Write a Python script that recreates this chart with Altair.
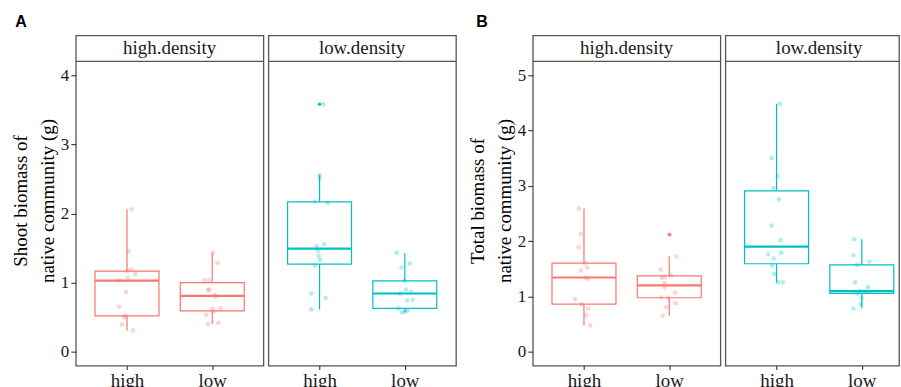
import altair as alt
import numpy as np
import pandas as pd

# ---------------- data ----------------
# Panel A: shoot biomass (g); Panel B: total biomass (g)
# groups: facet (high.density / low.density) x category (high / low)
A_hd_high = [2.06, 1.455, 1.19, 1.165, 1.126, 1.069, 1.03, 0.866, 0.65, 0.52, 0.497, 0.395, 0.309]
A_hd_high_jit = [0.055, 0.016, 0.047, 0.0, 0.098, 0.008, -0.089, -0.012, -0.093, -0.023, -0.035, -0.058, 0.07]
A_hd_low = [1.435, 1.281, 1.04, 1.035, 0.90, 0.895, 0.823, 0.794, 0.627, 0.621, 0.583, 0.534, 0.42, 0.40]
A_hd_low_jit = [0.01, 0.061, -0.036, -0.091, -0.035, -0.048, 0.03, 0.038, 0.096, 0.0, 0.018, -0.071, 0.072, -0.053]
A_ld_high = [3.58, 2.556, 2.508, 2.172, 2.152, 1.555, 1.526, 1.459, 1.386, 1.329, 1.248, 0.843, 0.776, 0.612]
A_ld_high_jit = [0.043, 0.0, 0.0, -0.057, 0.098, 0.055, -0.034, -0.022, -0.011, 0.008, -0.054, -0.097, 0.071, -0.097]
A_ld_low = [1.43, 1.276, 1.218, 1.025, 0.9, 0.866, 0.843, 0.751, 0.742, 0.627, 0.598, 0.578, 0.573]
A_ld_low_jit = [-0.095, 0.057, -0.04, -0.005, 0.014, 0.073, -0.056, 0.092, 0.026, -0.075, 0.034, 0.002, -0.036]

B_hd_high = [2.588, 2.13, 1.89, 1.601, 1.523, 1.469, 1.343, 1.318, 0.951, 0.861, 0.783, 0.662, 0.476]
B_hd_high_jit = [-0.061, -0.037, -0.061, 0.014, 0.037, -0.037, 0.021, 0.049, -0.103, -0.026, 0.049, 0.026, 0.073]
B_hd_low = [2.119, 1.722, 1.487, 1.379, 1.348, 1.336, 1.24, 1.162, 1.065, 0.982, 0.975, 0.879, 0.807, 0.65]
B_hd_low_jit = [0.01, 0.084, -0.099, 0.022, -0.052, -0.087, -0.056, -0.052, 0.069, -0.095, -0.013, 0.072, -0.033, -0.076]
B_ld_high = [4.483, 3.502, 3.171, 2.96, 2.756, 2.281, 2.016, 1.787, 1.758, 1.686, 1.559, 1.408, 1.253, 1.253]
B_ld_high_jit = [0.04, -0.058, 0.012, -0.035, 0.028, -0.058, 0.047, 0.055, -0.1, -0.035, -0.05, -0.027, 0.02, 0.075]
B_ld_low = [2.034, 1.745, 1.632, 1.57, 1.253, 1.168, 1.096, 1.09, 1.083, 1.054, 0.975, 0.866, 0.783]
B_ld_low_jit = [-0.088, -0.099, 0.088, -0.056, -0.08, 0.073, -0.021, 0.034, 0.061, -0.053, 0.0, -0.009, -0.099]

categories = ["high", "low"]
facets = ["high.density", "low.density"]
colors = {"high.density": "#F8766D", "low.density": "#00BFC4"}
A_title = ["Shoot biomass of", "native community (g)"]
B_title = ["Total biomass of", "native community (g)"]
A_ticks = [0, 1, 2, 3, 4]
B_ticks = [0, 1, 2, 3, 4, 5]

SERIF = "Liberation Serif"
PANEL_H = 331   # strip (26) + plot (305)
STRIP_H = 26


def stats(vals, pos):
    v = np.array(vals, dtype=float)
    q1, med, q3 = np.percentile(v, [25, 50, 75])
    iqr = q3 - q1
    lo = v[v >= q1 - 1.5 * iqr].min()
    hi = v[v <= q3 + 1.5 * iqr].max()
    out = v[(v < q1 - 1.5 * iqr) | (v > q3 + 1.5 * iqr)]
    return dict(pos=pos, q1=q1, med=med, q3=q3, lo=lo, hi=hi), out


def facet_chart(groups, facet, ydom, yticks, ytitle, width, xmax, show_y, letter=None):
    col = colors[facet]
    box_rows, out_rows, pt_rows = [], [], []
    for i, (vals, jit) in enumerate(groups):
        pos = i + 1
        s, out = stats(vals, pos)
        box_rows.append(s)
        for o in out:
            out_rows.append(dict(pos=pos, v=o))
        for v, j in zip(vals, jit):
            pt_rows.append(dict(pos=pos, jit=j, v=v))
    box_df = pd.DataFrame(box_rows)
    out_df = pd.DataFrame(out_rows if out_rows else [dict(pos=1, v=np.nan)])
    pt_df = pd.DataFrame(pt_rows)

    xscale = alt.Scale(domain=[0.4, xmax], nice=False, zero=False)
    xaxis = alt.Axis(values=[1, 2], labelExpr="datum.value == 1 ? 'high' : 'low'",
                     title=None, grid=False, domain=False, tickSize=4, tickColor="#333333",
                     tickWidth=1.1, labelPadding=2, labelFont=SERIF, labelFontSize=19,
                     labelColor="#1a1a1a")
    yscale = alt.Scale(domain=ydom, nice=False, zero=False)
    if show_y:
        yaxis = alt.Axis(values=yticks, title=ytitle, grid=False, domain=False, tickSize=5,
                         tickColor="#333333", tickWidth=1.1, labelPadding=2,
                         labelFont=SERIF, labelFontSize=17, labelColor="#1a1a1a",
                         titleFont=SERIF, titleFontSize=19, titleFontWeight="normal",
                         titleColor="#000000", titleLineHeight=27, titleX=-45)
    else:
        yaxis = None

    base_box = alt.Chart(box_df).transform_calculate(
        xlo="datum.pos - 0.375", xhi="datum.pos + 0.375")

    wl = base_box.mark_rule(color=col, strokeWidth=1.2).encode(
        x=alt.X("pos:Q", scale=xscale, axis=xaxis),
        y=alt.Y("lo:Q", scale=yscale, axis=yaxis), y2="q1:Q")
    wh = base_box.mark_rule(color=col, strokeWidth=1.2).encode(
        x=alt.X("pos:Q", scale=xscale, axis=xaxis),
        y=alt.Y("q3:Q", scale=yscale, axis=yaxis), y2="hi:Q")
    box = base_box.mark_rect(fill="white", stroke=col, strokeWidth=1.2).encode(
        x=alt.X("xlo:Q", scale=xscale, axis=xaxis), x2="xhi:Q",
        y=alt.Y("q1:Q", scale=yscale, axis=yaxis), y2="q3:Q")
    med = base_box.mark_rule(color=col, strokeWidth=2.2).encode(
        x=alt.X("xlo:Q", scale=xscale, axis=xaxis), x2="xhi:Q",
        y=alt.Y("med:Q", scale=yscale, axis=yaxis))
    outl = alt.Chart(out_df).mark_circle(color=col, opacity=1, size=11).encode(
        x=alt.X("pos:Q", scale=xscale, axis=xaxis),
        y=alt.Y("v:Q", scale=yscale, axis=yaxis))
    pts = alt.Chart(pt_df).transform_calculate(xj="datum.pos + datum.jit").mark_circle(
        color=col, opacity=0.3, size=22).encode(
        x=alt.X("xj:Q", scale=xscale, axis=xaxis),
        y=alt.Y("v:Q", scale=yscale, axis=yaxis))

    one = pd.DataFrame({"a": [0]})
    strip_line = alt.Chart(one).mark_rule(color="#555555", strokeWidth=1.3).encode(
        x=alt.value(0), x2=alt.value(width), y=alt.value(STRIP_H))
    strip_txt = alt.Chart(pd.DataFrame({"t": [facet]})).mark_text(
        font=SERIF, fontSize=19, color="#1a1a1a", align="center", baseline="alphabetic").encode(
        text="t:N", x=alt.value(94), y=alt.value(18.5))

    layers = [wl, wh, box, med, outl, pts, strip_line, strip_txt]
    if letter is not None:
        lt, lx = letter
        layers.append(alt.Chart(pd.DataFrame({"t": [lt]})).mark_text(
            font="Liberation Sans", fontWeight="bold", fontSize=16, color="#000000",
            align="center", baseline="middle").encode(
            text="t:N", x=alt.value(lx), y=alt.value(-13.5)))
    return alt.layer(*layers).properties(width=width, height=PANEL_H)


A_dom = [-0.2, 4.2 + STRIP_H / (305 / 4.4)]
B_dom = [-0.25, 5.25 + STRIP_H / (305 / 5.5)]

A1 = facet_chart([(A_hd_high, A_hd_high_jit), (A_hd_low, A_hd_low_jit)], facets[0],
                 A_dom, A_ticks, A_title, 188, 2.6, True, ("A", -55))
# invisible anchor fixing the top-left corner of the page
anchor = alt.Chart(pd.DataFrame({"a": [0]})).mark_rule(strokeOpacity=0, strokeWidth=0.01).encode(
    x=alt.value(-75), x2=alt.value(-74.5), y=alt.value(-34))
A1 = alt.layer(A1, anchor)
A2 = facet_chart([(A_ld_high, A_ld_high_jit), (A_ld_low, A_ld_low_jit)], facets[1],
                 A_dom, A_ticks, A_title, 188, 2.6, False)
spacer = alt.Chart(pd.DataFrame({"a": [0]})).mark_point(opacity=0).encode(
    x=alt.value(0), y=alt.value(0)).properties(
    width=67, height=PANEL_H, view=alt.ViewBackground(stroke="transparent"))
B1 = facet_chart([(B_hd_high, B_hd_high_jit), (B_hd_low, B_hd_low_jit)], facets[0],
                 B_dom, B_ticks, B_title, 188, 2.6, True, ("B", -51))
B2 = facet_chart([(B_ld_high, B_ld_high_jit), (B_ld_low, B_ld_low_jit)], facets[1],
                 B_dom, B_ticks, B_title, 174, 0.4 + 174 / (188 / 2.2), False)

chart = alt.hconcat(A1, A2, spacer, B1, B2, spacing=5, bounds="flush").properties(
    padding=0, background="white"
).configure(font=SERIF).configure_text(font=SERIF).configure_view(
    stroke="#555555", strokeWidth=1.3)

chart.save("out.html", embed_options={"renderer": "svg", "actions": False})
